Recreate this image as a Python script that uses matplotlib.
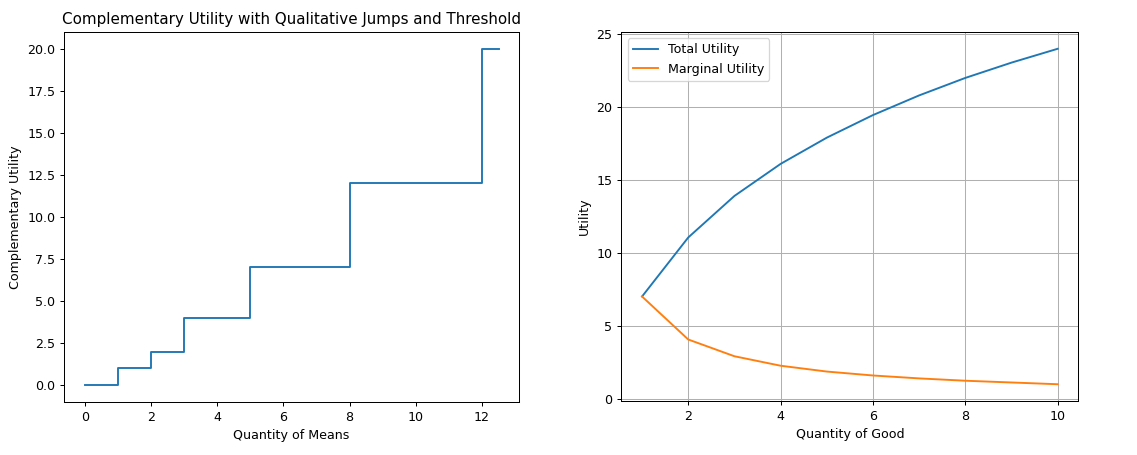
import matplotlib
matplotlib.use("Agg")
import matplotlib.pyplot as plt

# left panel: step function of complementary utility
means_qty = [0, 1, 2, 3, 5, 8, 12, 12.5]
comp_utility = [0, 1, 2, 4, 7, 12, 20, 20]

# right panel: total and marginal utility
good_qty = [1, 2, 3, 4, 5, 6, 7, 8, 9, 10]
total_utility = [7.0, 11.05, 13.9, 16.1, 17.9, 19.45, 20.8, 22.0, 23.05, 24.0]
marginal_utility = [7.0, 4.05, 2.9, 2.25, 1.85, 1.58, 1.38, 1.22, 1.1, 0.98]

fig = plt.figure(figsize=(12.5, 5), dpi=91)
W, H = 1137, 455
ax1 = fig.add_axes([64 / W, 1 - 402 / H, 455 / W, 370 / H])
ax2 = fig.add_axes([621 / W, 1 - 401 / H, 457 / W, 369 / H])

ax1.step(means_qty, comp_utility, where='post')
ax1.set_xlabel("Quantity of Means")
ax1.set_ylabel("Complementary Utility")
ax1.set_title("Complementary Utility with Qualitative Jumps and Threshold")

ax2.plot(good_qty, total_utility, label="Total Utility")
ax2.plot(good_qty, marginal_utility, label="Marginal Utility")
ax2.set_xlabel("Quantity of Good")
ax2.set_ylabel("Utility")
ax2.legend(loc="upper left")
ax2.grid(True)

plt.savefig("out.png")
